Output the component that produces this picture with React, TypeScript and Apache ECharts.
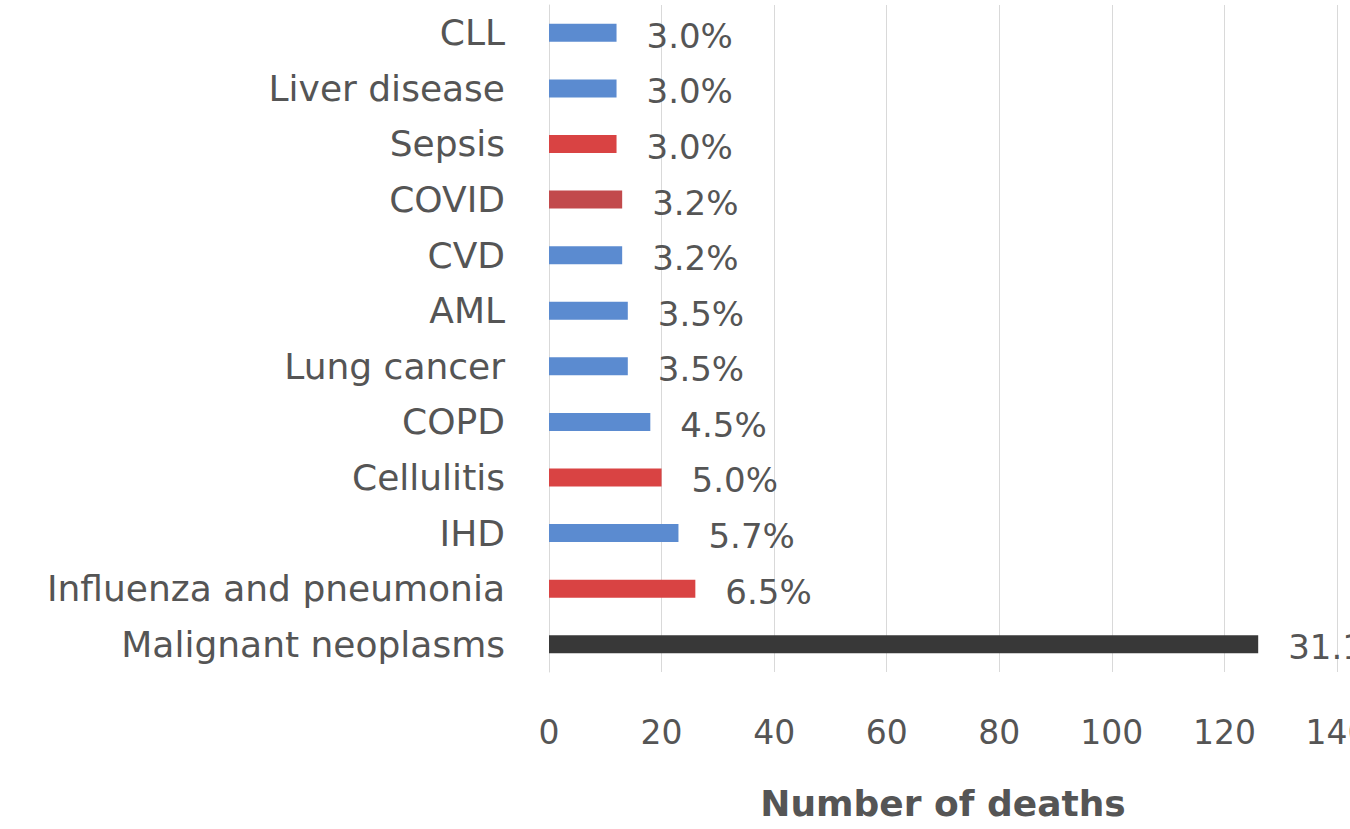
import React, { useEffect, useRef } from "react";
import * as echarts from "echarts";

// Categories listed bottom -> top (ECharts category axis order)
const causes = [
  "Malignant neoplasms",
  "Influenza and pneumonia",
  "IHD",
  "Cellulitis",
  "COPD",
  "Lung cancer",
  "AML",
  "CVD",
  "COVID",
  "Sepsis",
  "Liver disease",
  "CLL",
];
const deaths = [126, 26, 23, 20, 18, 14, 14, 13, 13, 12, 12, 12];
const shares = ["31.1%", "6.5%", "5.7%", "5.0%", "4.5%", "3.5%", "3.5%", "3.2%", "3.2%", "3.0%", "3.0%", "3.0%"];
const kinds = ["all", "infection", "other", "infection", "other", "other", "other", "other", "covid", "infection", "other", "other"];
const xTicks = { min: 0, max: 140, interval: 20 };

const kindColor: Record<string, string> = {
  all: "#383838",
  infection: "#d94343",
  covid: "#c24a4c",
  other: "#5b8bd0",
};

const FONT = "DejaVu Sans";
const TEXT = "#555555";
const GRIDC = "#d9d9d9";

export default function App() {
  const ref = useRef<HTMLDivElement>(null);
  useEffect(() => {
    if (!ref.current) return;
    const chart = echarts.init(ref.current, undefined, { renderer: "svg" });
    chart.setOption({
      animation: false,
      backgroundColor: "#ffffff",
      grid: {
        left: 549,
        top: 5,
        width: 788,
        height: 667,
        containLabel: false,
        outerBoundsMode: "none",
      },
      xAxis: {
        type: "value",
        min: xTicks.min,
        max: xTicks.max,
        interval: xTicks.interval,
        axisLine: { show: false },
        axisTick: { show: false },
        splitLine: { show: true, lineStyle: { color: GRIDC, width: 1 } },
        axisLabel: { color: TEXT, fontFamily: FONT, fontSize: 33, margin: 44 },
        name: "Number of deaths",
        nameLocation: "middle",
        nameGap: 113,
        nameTextStyle: { color: TEXT, fontFamily: FONT, fontSize: 36, fontWeight: "bold" },
      },
      yAxis: {
        type: "category",
        data: causes,
        axisLine: { show: true, lineStyle: { color: GRIDC, width: 1 } },
        axisTick: { show: false },
        axisLabel: { color: TEXT, fontFamily: FONT, fontSize: 36, margin: 44 },
      },
      series: [
        {
          type: "bar",
          barWidth: 18,
          data: deaths.map((v, i) => ({
            value: v,
            itemStyle: { color: kindColor[kinds[i]] },
          })),
          label: {
            show: true,
            position: "right",
            distance: 30,
            offset: [0, 3],
            color: TEXT,
            fontFamily: FONT,
            fontSize: 34,
            formatter: (p: any) => shares[p.dataIndex],
          },
        },
      ],
    });
    return () => chart.dispose();
  }, []);
  return (
    <div
      ref={ref}
      style={{ position: "fixed", left: 0, top: 0, width: 1350, height: 829, background: "#fff" }}
    />
  );
}
